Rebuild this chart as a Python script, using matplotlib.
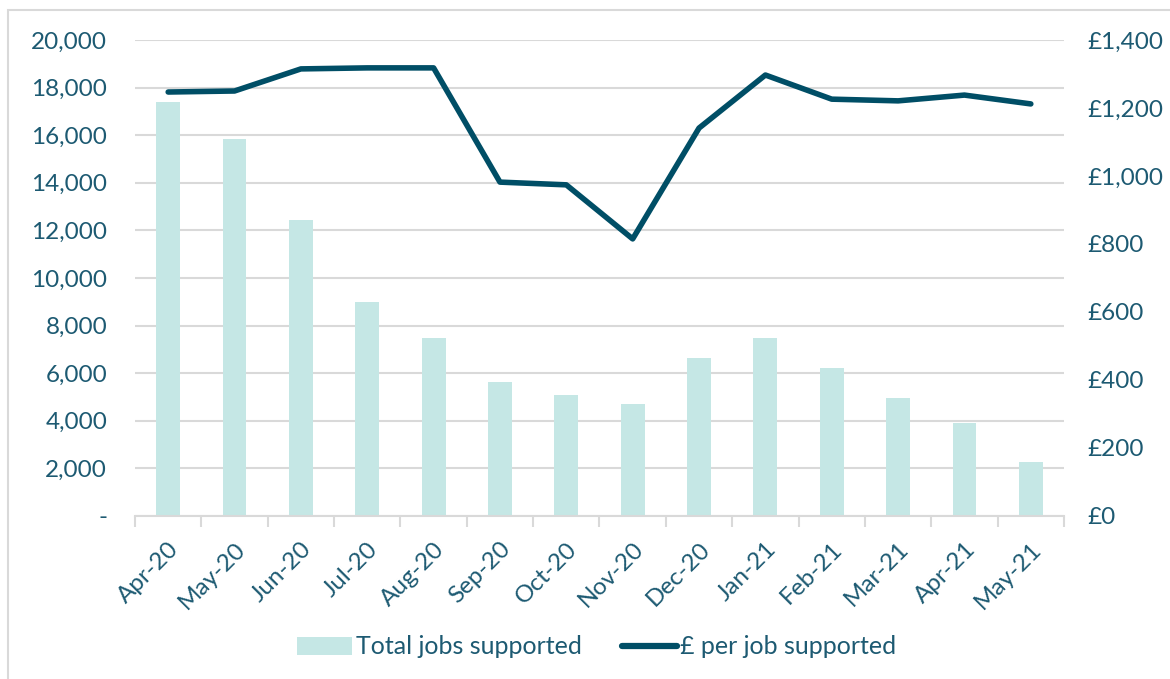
import matplotlib
matplotlib.use("Agg")
import matplotlib.pyplot as plt
from matplotlib.patches import Rectangle, Patch
from matplotlib.lines import Line2D
import numpy as np

months = ["Apr-20", "May-20", "Jun-20", "Jul-20", "Aug-20", "Sep-20", "Oct-20",
          "Nov-20", "Dec-20", "Jan-21", "Feb-21", "Mar-21", "Apr-21", "May-21"]
jobs = [17400, 15850, 12450, 9000, 7500, 5650, 5100, 4700, 6650, 7500, 6200, 4950, 3900, 2250]
per_job = [1247, 1250, 1315, 1318, 1318, 982, 974, 815, 1141, 1297, 1226, 1221, 1238, 1212]

left_ticks = list(range(0, 20001, 2000))
right_ticks = list(range(0, 1401, 200))

BAR = "#C5E7E5"
LINE = "#004E66"
TXT = "#1D5A72"
GRID = "#D9D9D9"

plt.rcParams["font.family"] = ["Lato", "DejaVu Sans"]

fig = plt.figure(figsize=(11.7, 6.79), dpi=100)
ax = fig.add_axes([135/1170, 1-516/679, (1064-135)/1170, (516-40)/679])
ax2 = ax.twinx()

x = np.arange(len(months))
ax.bar(x, jobs, width=0.36, color=BAR, zorder=2)
ax.set_xlim(-0.5, len(months)-0.5)
ax.set_ylim(0, 20000)
ax.set_yticks(left_ticks)
ax.set_yticklabels(["-" if v == 0 else f"{v:,}" for v in left_ticks])
ax.grid(axis="y", color=GRID, linewidth=1.5, zorder=0)
ax.set_axisbelow(True)

ax2.plot(x, per_job, color=LINE, linewidth=4, solid_capstyle="round", solid_joinstyle="round", zorder=3)
ax2.set_ylim(0, 1400)
ax2.set_yticks(right_ticks)
ax2.set_yticklabels([f"£{v:,}" for v in right_ticks])

for a in (ax, ax2):
    for s in a.spines.values():
        s.set_visible(False)
ax.spines["bottom"].set_visible(True)
ax.spines["bottom"].set_color(GRID)
ax.spines["bottom"].set_linewidth(1.5)

ax.set_xticks(np.arange(-0.5, len(months), 1.0), minor=False)
ax.set_xticklabels([])
ax.set_xticks(x, minor=True)
ax.set_xticklabels(months, minor=True, rotation=45, ha="right", va="top",
                   rotation_mode="anchor", fontsize=17.5, color=TXT)
ax.tick_params(axis="x", which="major", length=8, width=1.5, color=GRID)
ax.tick_params(axis="x", which="minor", length=0, pad=16)
ax.tick_params(axis="y", length=0, labelsize=17.5, labelcolor=TXT, pad=20)
ax2.tick_params(axis="y", length=0, labelsize=17.5, labelcolor=TXT, pad=17)

handles = [Patch(facecolor=BAR, edgecolor="none"),
           Line2D([0], [0], color=LINE, linewidth=4.5, solid_capstyle="round")]
leg = fig.legend(handles, ["Total jobs supported", "£ per job supported"],
                 loc="center", bbox_to_anchor=(0.51, 1-647/679), ncol=2, frameon=False,
                 fontsize=18, handlelength=2.2, handleheight=0.75, columnspacing=1.6,
                 handletextpad=0.15)
for t in leg.get_texts():
    t.set_color(TXT)

fig.patches.append(Rectangle((8/1170, -0.1), 1.5, 1-10/679+0.1, transform=fig.transFigure,
                             fill=False, edgecolor=GRID, linewidth=1.5))

fig.savefig("out.png", dpi=100)
